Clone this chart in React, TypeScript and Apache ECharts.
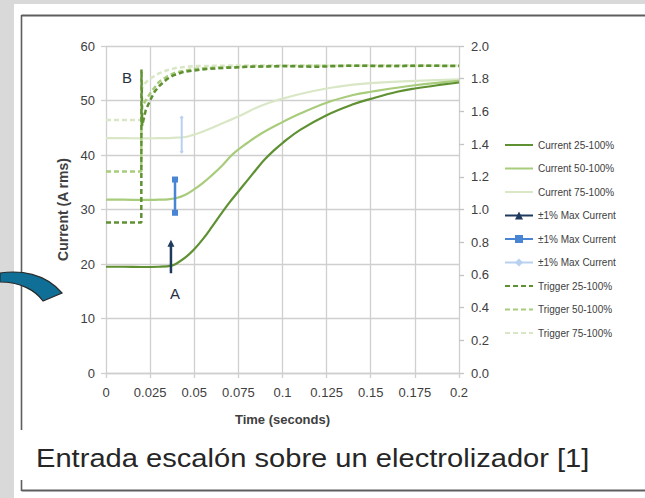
import React, { useEffect, useRef } from "react";
import * as echarts from "echarts";

// ---- data ----
const xTickLabels = ["0", "0.025", "0.05", "0.075", "0.1", "0.125", "0.15", "0.175", "0.2"];
const rightTickLabels = ["0.0", "0.2", "0.4", "0.6", "0.8", "1.0", "1.2", "1.4", "1.6", "1.8", "2.0"];

const cur25T = [0, 0.01, 0.02, 0.03, 0.0372, 0.04, 0.045, 0.05, 0.055, 0.06, 0.065, 0.07, 0.075, 0.08, 0.085, 0.09, 0.095, 0.1, 0.11, 0.125, 0.14, 0.15, 0.165, 0.175, 0.19, 0.2];
const cur25V = [19.5, 19.5, 19.45, 19.5, 19.7, 20.1, 21.2, 22.7, 24.6, 26.8, 29.1, 31.3, 33.3, 35.3, 37.3, 39.2, 40.8, 42.2, 44.6, 47.3, 49.3, 50.3, 51.6, 52.2, 52.9, 53.3];

const cur50T = [0, 0.01, 0.02, 0.03, 0.035, 0.04, 0.045, 0.0495, 0.055, 0.059, 0.065, 0.072, 0.08, 0.0873, 0.0986, 0.11, 0.125, 0.14, 0.15, 0.175, 0.2];
const cur50V = [31.8, 31.8, 31.75, 31.8, 31.85, 32.1, 32.7, 33.6, 34.9, 36.0, 37.8, 40.2, 42.2, 43.8, 45.8, 47.6, 49.6, 51.0, 51.6, 52.8, 53.6];

const cur75T = [0, 0.01, 0.02, 0.03, 0.038, 0.045, 0.0495, 0.055, 0.0608, 0.068, 0.0759, 0.0875, 0.0986, 0.11, 0.125, 0.14, 0.15, 0.175, 0.2];
const cur75V = [43.1, 43.1, 43.05, 43.1, 43.15, 43.3, 43.7, 44.3, 45.1, 46.1, 47.2, 49.0, 50.2, 51.2, 52.2, 52.9, 53.2, 53.6, 53.9];

// ±1% Max Current bars: [time, low, high]
const maxBarA = [0.0368, 18.3, 23.8];
const maxBarB = [0.0391, 29.4, 35.5];
const maxBarC = [0.0429, 40.6, 46.9];

// Trigger traces (right axis)
const trig25T = [0, 0.01, 0.02, 0.0201, 0.0205, 0.0225, 0.025, 0.0275, 0.0306, 0.0345, 0.0381, 0.0435, 0.0495, 0.057, 0.0684, 0.08, 0.1, 0.12, 0.14, 0.16, 0.18, 0.2];
const trig25V = [0.92, 0.92, 0.92, 1.857, 1.513, 1.607, 1.667, 1.72, 1.76, 1.797, 1.82, 1.84, 1.85, 1.86, 1.867, 1.873, 1.877, 1.873, 1.88, 1.877, 1.88, 1.877];

const trig50T = [0, 0.01, 0.02, 0.0201, 0.0225, 0.025, 0.03, 0.035, 0.04, 0.05, 0.06, 0.08, 0.1, 0.13, 0.16, 0.2];
const trig50V = [1.233, 1.233, 1.233, 1.623, 1.667, 1.71, 1.78, 1.817, 1.84, 1.86, 1.867, 1.873, 1.877, 1.88, 1.877, 1.88];

const trig75T = [0, 0.01, 0.02, 0.0201, 0.0225, 0.025, 0.03, 0.035, 0.04, 0.05, 0.07, 0.1, 0.13, 0.16, 0.2];
const trig75V = [1.547, 1.547, 1.547, 1.733, 1.777, 1.8, 1.833, 1.853, 1.867, 1.877, 1.88, 1.883, 1.88, 1.883, 1.88];

const seriesNames = [
  "Current 25-100%",
  "Current 50-100%",
  "Current 75-100%",
  "±1% Max Current",
  "±1% Max Current ",
  "±1% Max Current  ",
  "Trigger 25-100%",
  "Trigger 50-100%",
  "Trigger 75-100%",
];

const annotA = [0.0391, 14.6];
const annotB = [0.0119, 54.3];

const caption = "Entrada escalón sobre un electrolizador [1]";

const C_DARK = "#5f9133";
const C_MID = "#a8cc7c";
const C_LIGHT = "#d9e7c6";
const C_NAVY = "#1f3a5f";
const C_BLUE = "#4a85d3";
const C_LBLUE = "#b9d1f0";

const zip = (t: number[], v: number[]) => t.map((x, i) => [x, v[i]]);

const ARROW_D = "M0,273 C20,270 45,273 62,293 L43,301 C35,290 20,282 0,282 Z";
echarts.graphic.registerShape("tealArrow", echarts.graphic.extendPath(ARROW_D, {}) as any);

export default function App() {
  const ref = useRef<HTMLDivElement>(null);
  useEffect(() => {
    if (!ref.current) return;
    const chart = echarts.init(ref.current, undefined, { renderer: "svg" });
    const font = "Liberation Sans, Arial, sans-serif";
    const bar = (b: number[], topSym: string, botSym: string, size: number) => [
      { value: [b[0], b[1]], symbol: botSym, symbolSize: size },
      { value: [b[0], b[2]], symbol: topSym, symbolSize: size },
    ];
    const legendData = seriesNames.map((n, i) =>
      i >= 3 && i <= 5 ? { name: n } : { name: n, itemStyle: { opacity: 0 } }
    );
    const option: any = {
      animation: false,
      backgroundColor: "#d9d9d9",
      textStyle: { fontFamily: font },
      grid: { left: 106, right: 186, top: 46, bottom: 125 },
      legend: {
        orient: "vertical",
        left: 504,
        top: 140,
        padding: 0,
        itemWidth: 28,
        itemHeight: 10,
        itemGap: 13.5,
        data: legendData,
        textStyle: { fontSize: 10, color: "#404040", fontFamily: font, lineHeight: 10 },
      },
      xAxis: {
        type: "value",
        min: 0,
        max: 0.2,
        interval: 0.025,
        name: "Time (seconds)",
        nameLocation: "middle",
        nameGap: 40,
        nameTextStyle: { fontSize: 13, fontWeight: "bold", color: "#404040", fontFamily: font },
        axisLine: { show: true, lineStyle: { color: "#cfcfcf", width: 1.3 } },
        axisTick: { show: true, length: 5, lineStyle: { color: "#cfcfcf", width: 1.3 } },
        axisLabel: {
          margin: 13,
          fontSize: 13,
          color: "#404040",
          formatter: (_v: number, i: number) => xTickLabels[i] ?? "",
        },
        splitLine: { show: true, lineStyle: { color: "#cfcfcf", width: 1.3 } },
      },
      yAxis: [
        {
          type: "value",
          min: 0,
          max: 60,
          interval: 10,
          name: "Current (A rms)",
          nameLocation: "middle",
          nameGap: 34,
          nameTextStyle: { fontSize: 14, fontWeight: "bold", color: "#404040", fontFamily: font },
          axisLine: { show: false },
          axisTick: { show: true, length: 5, lineStyle: { color: "#cfcfcf", width: 1.3 } },
          axisLabel: { margin: 11, fontSize: 13, color: "#404040" },
          splitLine: { show: true, lineStyle: { color: "#cfcfcf", width: 1.3 } },
        },
        {
          type: "value",
          min: 0,
          max: 2,
          interval: 0.2,
          position: "right",
          axisLine: { show: false },
          axisTick: { show: true, length: 5, lineStyle: { color: "#c4c4c4", width: 1.3 } },
          axisLabel: {
            margin: 12,
            fontSize: 13,
            color: "#404040",
            formatter: (_v: number, i: number) => rightTickLabels[i] ?? "",
          },
          splitLine: { show: false },
        },
      ],
      graphic: [
        { type: "rect", z: -100, shape: { x: 14, y: 4, width: 631, height: 494 }, style: { fill: "#ffffff" }, silent: true },
        { type: "line", shape: { x1: 21.5, y1: 15.5, x2: 645, y2: 15.5 }, style: { stroke: "#5e5e5e", lineWidth: 2 }, silent: true },
        { type: "line", shape: { x1: 21.5, y1: 15, x2: 21.5, y2: 430 }, style: { stroke: "#5e5e5e", lineWidth: 1.6 }, silent: true },
        { type: "line", shape: { x1: 21.5, y1: 490.5, x2: 645, y2: 490.5 }, style: { stroke: "#5e5e5e", lineWidth: 2 }, silent: true },
        { type: "line", shape: { x1: 21.5, y1: 480, x2: 21.5, y2: 491 }, style: { stroke: "#5e5e5e", lineWidth: 1.6 }, silent: true },
        {
          type: "tealArrow",
          x: 0,
          y: 0,
          scaleX: 1,
          scaleY: 1,
          style: { fill: "#0f6f96", stroke: "#2a2a2a", lineWidth: 1.2 },
          silent: true,
        },
        {
          type: "text",
          x: 36,
          y: 458,
          scaleX: 1.12,
          style: {
            text: caption,
            fontSize: 26,
            fontFamily: font,
            fill: "#262626",
            textVerticalAlign: "middle",
          },
          silent: true,
        },
      ],
      series: [
        {
          name: seriesNames[0], type: "line", data: zip(cur25T, cur25V), symbol: "none",
          smooth: 0.4, lineStyle: { color: C_DARK, width: 2.2 }, itemStyle: { color: C_DARK }, z: 4,
        },
        {
          name: seriesNames[1], type: "line", data: zip(cur50T, cur50V), symbol: "none",
          smooth: 0.4, lineStyle: { color: C_MID, width: 2.2 }, itemStyle: { color: C_MID }, z: 3,
        },
        {
          name: seriesNames[2], type: "line", data: zip(cur75T, cur75V), symbol: "none",
          smooth: 0.4, lineStyle: { color: C_LIGHT, width: 2.2 }, itemStyle: { color: C_LIGHT }, z: 2,
        },
        {
          name: seriesNames[3], type: "line", data: bar(maxBarA, "triangle", "none", 7), symbol: "triangle", symbolSize: 7,
          lineStyle: { color: C_NAVY, width: 2.5 }, itemStyle: { color: C_NAVY }, z: 6,
        },
        {
          name: seriesNames[4], type: "line", data: bar(maxBarB, "rect", "rect", 6), symbol: "rect", symbolSize: 6,
          lineStyle: { color: C_BLUE, width: 2.5 }, itemStyle: { color: C_BLUE }, z: 6,
        },
        {
          name: seriesNames[5], type: "line", data: bar(maxBarC, "diamond", "diamond", 4), symbol: "diamond", symbolSize: 4,
          lineStyle: { color: C_LBLUE, width: 2 }, itemStyle: { color: C_LBLUE }, z: 6,
        },
        {
          name: seriesNames[6], type: "line", yAxisIndex: 1, data: zip(trig25T, trig25V), symbol: "none",
          lineStyle: { color: C_DARK, width: 2.5, type: [5, 3] }, itemStyle: { color: C_DARK }, z: 5,
        },
        {
          name: seriesNames[7], type: "line", yAxisIndex: 1, data: zip(trig50T, trig50V), symbol: "none",
          lineStyle: { color: C_MID, width: 2.5, type: [5, 3] }, itemStyle: { color: C_MID }, z: 4,
        },
        {
          name: seriesNames[8], type: "line", yAxisIndex: 1, data: zip(trig75T, trig75V), symbol: "none",
          lineStyle: { color: C_LIGHT, width: 2.5, type: [5, 3] }, itemStyle: { color: C_LIGHT }, z: 3,
        },
      ],
    };
    chart.setOption(option);
    const pA = chart.convertToPixel({ xAxisIndex: 0, yAxisIndex: 0 }, annotA) as number[];
    const pB = chart.convertToPixel({ xAxisIndex: 0, yAxisIndex: 0 }, annotB) as number[];
    const annot = (p: number[], t: string) => ({
      type: "text",
      x: p[0],
      y: p[1],
      z: 50,
      style: {
        text: t,
        fontSize: 15,
        fontFamily: font,
        fill: "#26303f",
        textAlign: "center",
        textVerticalAlign: "middle",
      },
      silent: true,
    });
    chart.setOption({ graphic: [...option.graphic, annot(pA, "A"), annot(pB, "B")] });
    return () => chart.dispose();
  }, []);
  return (
    <div
      ref={ref}
      style={{ position: "absolute", left: 0, top: 0, width: 645, height: 498 }}
    />
  );
}
